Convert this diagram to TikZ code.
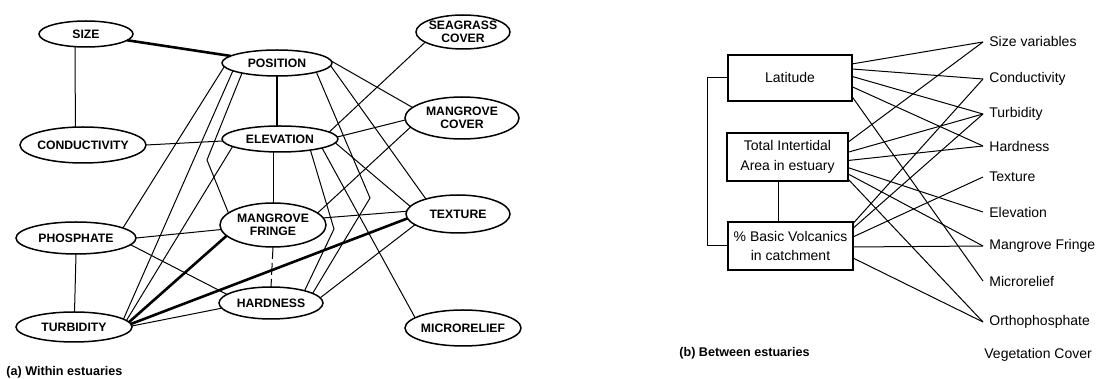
\documentclass[tikz,border=0pt]{standalone}
\usepackage{fontspec}
\setmainfont{Liberation Sans}
\usetikzlibrary{shapes.geometric,calc}
\begin{document}
\begin{tikzpicture}[x=0.5pt,y=-0.5pt,
  ell/.style={draw,ellipse,line width=0.75pt,inner sep=0pt,outer sep=0pt},
  every label/.style={font=\fontsize{6.1}{6.3}\selectfont\bfseries,align=center,inner sep=0pt},
  conn/.style={line width=0.5pt},
  thickconn/.style={line width=1.3pt},
  dashconn/.style={line width=0.5pt,dash pattern=on 6pt off 2pt},
  box/.style={draw,rectangle,line width=0.6pt,inner sep=0pt,align=center,font=\fontsize{7}{9.8}\selectfont},
  vlab/.style={anchor=west,inner xsep=3pt,inner ysep=0pt,font=\fontsize{7}{8}\selectfont},
  captext/.style={anchor=west,inner sep=0pt,font=\fontsize{6.3}{7}\selectfont\bfseries}
]
\useasboundingbox (0,0) rectangle (1100,379);

% ---------- (a) within estuaries ----------
\node[ell,minimum width=47pt,minimum height=13pt,label={center:SIZE}] (size) at (86,34) {};
\node[ell,minimum width=63pt,minimum height=18pt,label={center:CONDUCTIVITY}] (cond) at (83,145) {};
\node[ell,minimum width=60pt,minimum height=16pt,label={center:PHOSPHATE}] (phos) at (76,238) {};
\node[ell,minimum width=58pt,minimum height=15pt,label={center:TURBIDITY}] (turb) at (74,327) {};
\node[ell,minimum width=55pt,minimum height=13pt,label={center:POSITION}] (pos) at (277,63) {};
\node[ell,minimum width=58pt,minimum height=13pt,label={center:ELEVATION}] (elev) at (280,139) {};
\node[ell,minimum width=53pt,minimum height=22pt,label={center:MANGROVE\\FRINGE}] (mf) at (273,225) {};
\node[ell,minimum width=52pt,minimum height=16pt,label={center:HARDNESS}] (hard) at (271,303) {};
\node[ell,minimum width=47pt,minimum height=17pt,label={center:SEAGRASS\\COVER}] (sea) at (463,32) {};
\node[ell,minimum width=57pt,minimum height=21pt,label={center:MANGROVE\\COVER}] (mc) at (462,118) {};
\node[ell,minimum width=52pt,minimum height=19pt,label={center:TEXTURE}] (tex) at (458,214) {};
\node[ell,minimum width=58pt,minimum height=18pt,label={center:MICRORELIEF}] (micro) at (463,328) {};

\coordinate (k1) at (207,160);
\coordinate (k2) at (334,229);
\coordinate (k3) at (370,198);

% thick connectors
\draw[thickconn] (size) -- (pos);
\draw[thickconn] (pos.south) -- (elev.north -| pos.south);
\draw[thickconn] (turb.5) -- (mf.193);
\draw[thickconn] (turb.3) -- (tex.185);

% thin connectors
\draw[conn] (size.229) -- (cond.113);
\draw[conn] (cond.east) -- (elev.182);
\draw[conn] (phos.south) -- (turb.88);
\draw[conn] (phos.east) -- (mf.185);
\draw[conn] (phos.353) -- (hard.169);
\draw[conn] (pos.184) -- (phos.12);
\draw[conn] (pos.190) -- (turb.9);
\draw[conn] (elev.189) -- (turb.7);
\draw[conn] (pos.196) -- (k1) -- (mf.165);
\draw[conn] (mf.north |- elev.south) -- (mf.north);
\draw[dashconn] (mf.south) -- (hard.north);
\draw[conn] (turb.1) -- (hard.186);
\draw[conn] (pos.2) -- (mc.168);
\draw[conn] (elev.2) -- (mc.182);
\draw[conn] (elev.8) -- (sea.195);
\draw[conn] (mc.190) -- (mf.15);
\draw[conn] (mf.8) -- (tex.177);
\draw[conn] (hard.6) -- (tex.194);
\draw[conn] (pos.357) -- (tex.155);
\draw[conn] (elev.356) -- (tex.171);
\draw[conn] (elev.348) -- (micro.168);
\draw[conn] (elev.340) -- (k2) -- (hard.20);
\draw[conn] (pos.347) -- (k3) -- (hard.13);

\node[captext] (capa) at (6,372) {(a) Within estuaries};

% ---------- (b) between estuaries ----------
\node[box,minimum width=62pt,minimum height=23pt] (lat) at (790,78) {Latitude};
\node[box,minimum width=60.5pt,minimum height=24pt] (tot) at (787.5,157) {Total Intertidal\\Area in estuary};
\node[box,minimum width=62.5pt,minimum height=24pt] (volc) at (790.5,246) {\% Basic Volcanics\\in catchment};

\node[vlab] (lsize) at (983,42) {Size variables};
\node[vlab] (lcond) at (983,79) {Conductivity};
\node[vlab] (lturb) at (983,114) {Turbidity};
\node[vlab] (lhard) at (983,146) {Hardness};
\node[vlab] (ltext) at (983,177) {Texture};
\node[vlab] (lelev) at (983,212) {Elevation};
\node[vlab] (lmf) at (983,246) {Mangrove Fringe};
\node[vlab] (lmicro) at (983,281) {Microrelief};
\node[vlab] (lortho) at (983,322) {Orthophosphate};
\node[vlab] (lveg) at (978,355) {Vegetation Cover};

\draw[conn] (lat.west) -- ++(-20,0) |- (volc.west);
\draw[conn] ($(tot.south west)!0.43!(tot.south east)$) coordinate (tv) -- (tv |- volc.north);

\draw[conn] ($(lat.north east)!0.20!(lat.south east)$) -- (lsize.west);
\draw[conn] ($(lat.north east)!0.31!(lat.south east)$) -- (lcond.west);
\draw[conn] ($(lat.north east)!0.47!(lat.south east)$) -- (lturb.west);
\draw[conn] ($(lat.north east)!0.69!(lat.south east)$) -- (lhard.west);
\draw[conn] ($(lat.north east)!0.91!(lat.south east)$) -- (lmicro.west);

\draw[conn] ($(tot.north east)!0.19!(tot.south east)$) -- (lsize.west);
\draw[conn] ($(tot.north east)!0.40!(tot.south east)$) -- (lturb.west);
\draw[conn] ($(tot.north east)!0.57!(tot.south east)$) -- (lhard.west);
\draw[conn] ($(tot.north east)!0.72!(tot.south east)$) -- (lelev.west);
\draw[conn] ($(tot.north east)!0.85!(tot.south east)$) -- (lmf.west);
\draw[conn] ($(tot.north east)!0.96!(tot.south east)$) -- (lortho.west);

\draw[conn] ($(volc.north east)!0.03!(volc.south east)$) -- (lcond.west);
\draw[conn] ($(volc.north east)!0.13!(volc.south east)$) -- (lturb.west);
\draw[conn] ($(volc.north east)!0.31!(volc.south east)$) -- (ltext.west);
\draw[conn] ($(volc.north east)!0.52!(volc.south east)$) -- (lmf.west);
\draw[conn] ($(volc.north east)!0.75!(volc.south east)$) -- (lortho.west);

\node[captext] (capb) at (679,353) {(b) Between estuaries};
\end{tikzpicture}
\end{document}
